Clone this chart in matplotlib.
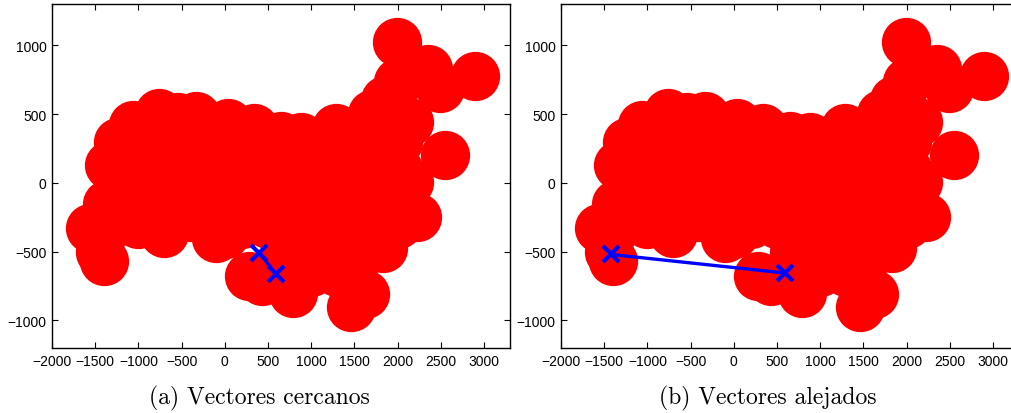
import matplotlib
matplotlib.use("Agg")
import matplotlib.pyplot as plt

# circle centres (same set in both panels)
pts_x = [1990, 2890, 2350, 2490, 2000, 1850, 2550, 2130, 2130, 2220, 1830, 1620, 1460,
         785, 430, 285, -100, 0, -700, -1400, -1450, -1560, -1360, -1340, -1240, -1060,
         -760, -540, -330, 40, 340, 650, 880, 1290,
         # interior
         -1000, -700, -400, -100, 200, 500, 800, 1100, 1400, 1700,
         -1200, -900, -600, -300, 0, 300, 600, 900, 1200, 1500, 1800, 2000,
         -1200, -900, -600, -300, 0, 300, 600, 900, 1200, 1500, 1800, 2000,
         -1300, -1000, -400, 200, 500, 800, 1100, 1400, 1700, 2000,
         700, 1000, 1300, 1600, 1000, 1300,
         1700, 1900, 2000, 1600]
pts_y = [1025, 780, 830, 690, 730, 600, 205, 440, 10, -250, -470, -805, -905,
         -800, -715, -675, -400, -370, -365, -570, -500, -330, -150, 130, 300, 420,
         510, 480, 485, 435, 400, 340, 330, 400,
         300, 300, 300, 300, 300, 300, 300, 300, 300, 300,
         100, 100, 100, 100, 100, 100, 100, 100, 100, 100, 100, 100,
         -100, -100, -100, -100, -100, -100, -100, -100, -100, -100, -100, -100,
         -300, -300, -250, -300, -300, -300, -300, -300, -300, -300,
         -500, -500, -500, -500, -650, -650,
         500, 450, 300, 380]

# highlighted pairs
near_x = [400, 590]
near_y = [-510, -660]
far_x = [-1420, 590]
far_y = [-520, -655]

captions = ["(a) Vectores cercanos", "(b) Vectores alejados"]

plt.rcParams['font.family'] = ['Liberation Sans', 'DejaVu Sans']

fig = plt.figure(figsize=(10.12, 4.14), dpi=100)
W, H = 1012, 414
ax1 = fig.add_axes([52 / W, (H - 349) / H, 458 / W, 344 / H])
ax2 = fig.add_axes([561 / W, (H - 349) / H, 458 / W, 344 / H])

for ax, (bx, by), cap, cx in zip([ax1, ax2], [(near_x, near_y), (far_x, far_y)],
                                 captions, [259, 768]):
    ax.scatter(pts_x, pts_y, s=1260, c='#ff0000', linewidths=0, zorder=2)
    ax.plot(bx, by, color='#0000ff', lw=2.4, marker='x', ms=11, mew=3, zorder=3)
    ax.set_xlim(-2000, 3300)
    ax.set_ylim(-1200, 1300)
    ax.set_xticks(range(-2000, 3001, 500))
    ax.set_yticks(range(-1000, 1001, 500))
    ax.tick_params(direction='in', top=True, right=True, labelsize=10, length=4,
                   width=0.8, pad=4)
    for s in ax.spines.values():
        s.set_linewidth(1.0)
    fig.text(cx / W, 1 - 398 / H, cap, ha='center', va='center', fontsize=17,
             family=['cmr10', 'DejaVu Serif'])

fig.savefig('out.png', dpi=100)
